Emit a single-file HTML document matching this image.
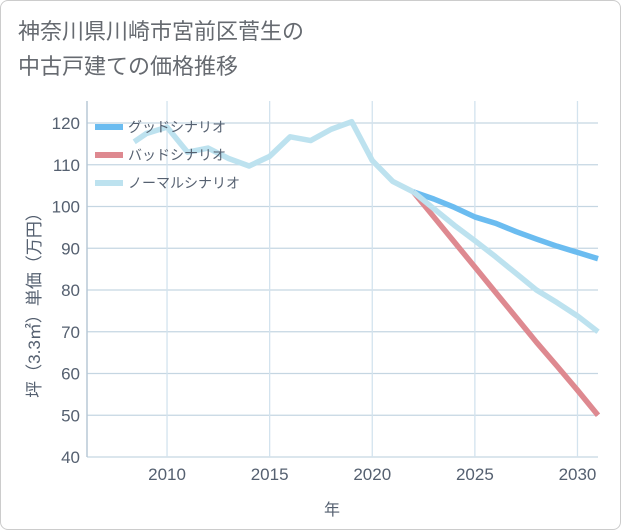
<!DOCTYPE html>
<html><head><meta charset="utf-8"><style>
body{margin:0;background:#fff;}
#wrap{position:relative;width:619px;height:528px;border:1px solid #ccc;border-radius:8px;background:#fff;overflow:hidden;font-family:"Liberation Sans","Noto Sans CJK JP",sans-serif;}
#title{position:absolute;left:17px;top:13px;font-size:22px;line-height:35px;color:#666a70;}
svg{position:absolute;left:0;top:0;}
text{font-family:"Liberation Sans","Noto Sans CJK JP",sans-serif;}
</style></head><body>
<div id="wrap">
<div id="title">神奈川県川崎市宮前区菅生の<br>中古戸建ての価格推移</div>
<svg id="chart" width="621" height="530"></svg>
</div>
<script>
const yearsPast=[2008.4,2009,2010,2011,2012,2013,2014,2015,2016,2017,2018,2019,2020,2021,2022];
const valuesPast=[115.5,117.5,119,113,114,111.5,109.7,112,116.7,115.8,118.5,120.3,111,106,103.5];
const yearsFuture=[2022,2023,2024,2025,2026,2027,2028,2029,2030,2031];
const goodValues=[103.5,101.8,99.8,97.5,96,94,92.2,90.5,89,87.5];
const badValues=[103.5,97.5,91.5,85.5,79.5,73.5,67.5,61.8,56,50];
const normalValues=[103.5,99.5,95.5,91.8,88,84,80,77,73.8,70];
const xTicks=[2010,2015,2020,2025,2030];
const yTicks=[40,50,60,70,80,90,100,110,120];
const legendLabels=['グッドシナリオ','バッドシナリオ','ノーマルシナリオ'];
const colors=['#6bbcf0','#de8990','#bde2ef'];
const NS='http://www.w3.org/2000/svg';
const svg=document.getElementById('chart');
const L=86,R=597,T=100,B=456;
const X=y=>L+(y-2006.1)*(R-L)/(2031-2006.1);
const Y=v=>B-(v-40)*(B-122)/(120-40);
function mk(tag,attrs){const e=document.createElementNS(NS,tag);for(const k in attrs)e.setAttribute(k,attrs[k]);svg.appendChild(e);return e;}
yTicks.forEach(v=>{
 const g=mk('line',{x1:L,x2:R,y1:Y(v),y2:Y(v),stroke:'#c5d6e2','stroke-width':1.3});
 
 
 const t=mk('text',{x:L-7,y:Y(v)+6,'text-anchor':'end','font-size':17,fill:'#556070'});
 t.textContent=v;
 
 
});
xTicks.forEach(v=>{
 const g=mk('line',{x1:X(v),x2:X(v),y1:T,y2:B,stroke:'#d3e3ee','stroke-width':1.3});
 
 
 const t=mk('text',{x:X(v),y:B+23,'text-anchor':'middle','font-size':17,fill:'#556070'});
 t.textContent=v;
 
 
});
const ax=mk('line',{x1:L,x2:L,y1:T,y2:B,stroke:'#b8c8d6','stroke-width':1.5});


function line(xs,vs,c,name){
 const p=mk('polyline',{points:xs.map((x,i)=>X(x)+','+Y(vs[i])).join(' '),fill:'none',stroke:c,'stroke-width':5.5,'stroke-linejoin':'round'});
 
 
}
line(yearsFuture,goodValues,colors[0],'good-scenario-line');
line(yearsFuture,badValues,colors[1],'bad-scenario-line');
line(yearsFuture,normalValues,colors[2],'normal-scenario-line');
line(yearsPast,valuesPast,colors[2],'historical-line');
legendLabels.forEach((lab,i)=>{
 const y=126+i*28;
 const s=mk('line',{x1:94,x2:122,y1:y,y2:y,stroke:colors[i],'stroke-width':6});
 
 
 const t=mk('text',{x:127,y:y+5,'font-size':14,fill:'#556070'});
 t.textContent=lab;
 
 
});
const xt=mk('text',{x:331,y:514,'text-anchor':'middle','font-size':16,fill:'#556070'});
xt.textContent='年';


const yt=mk('text',{x:0,y:0,'text-anchor':'middle','font-size':17,fill:'#556070',transform:'translate(39,300) rotate(-90)'});
yt.textContent='坪（3.3㎡）単価（万円）';


</script>
</body></html>
